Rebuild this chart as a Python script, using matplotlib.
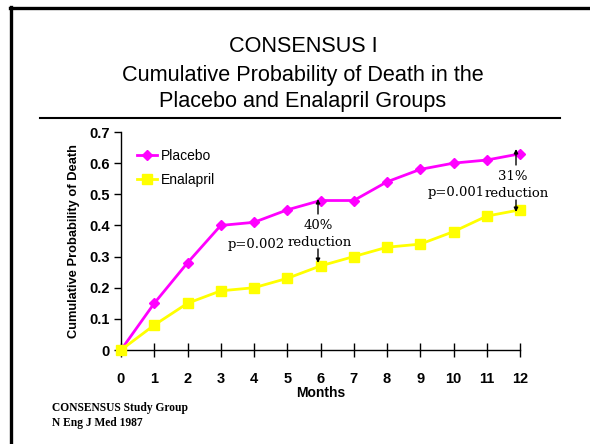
import matplotlib
matplotlib.use("Agg")
import matplotlib.pyplot as plt
from matplotlib.lines import Line2D

months = list(range(13))
placebo = [0, 0.15, 0.28, 0.40, 0.41, 0.45, 0.48, 0.48, 0.54, 0.58, 0.60, 0.61, 0.63]
enalapril = [0, 0.08, 0.15, 0.19, 0.20, 0.23, 0.27, 0.30, 0.33, 0.34, 0.38, 0.43, 0.45]
yticks = [0, 0.1, 0.2, 0.3, 0.4, 0.5, 0.6, 0.7]
ytick_labels = ["0", "0.1", "0.2", "0.3", "0.4", "0.5", "0.6", "0.7"]

W, H = 590, 444
fig = plt.figure(figsize=(W / 100, H / 100), dpi=100)
fig.patch.set_facecolor("white")

def fx(px):
    return px / W

def fy(py):
    return 1 - py / H

# frame lines
fig.add_artist(Line2D([fx(10), fx(590)], [fy(8), fy(8)], color="black", lw=2.4))
fig.add_artist(Line2D([fx(11), fx(11)], [fy(7), fy(444)], color="black", lw=2.4))
# rule under title
fig.add_artist(Line2D([fx(40), fx(560)], [fy(118), fy(118)], color="black", lw=1.5))

sans = "Liberation Sans"
serif = "DejaVu Serif"

for txt, py in [("CONSENSUS I", 46), ("Cumulative Probability of Death in the", 75),
                ("Placebo and Enalapril Groups", 102)]:
    fig.text(fx(303), fy(py), txt, ha="center", va="center", fontsize=15.6, family=sans)

ax = fig.add_axes([fx(121), fy(350), fx(520) - fx(121), fy(132) - fy(350)])
ax.plot(months, placebo, color="#FF00FF", lw=2, marker="D", ms=5.5, clip_on=False,
        label="Placebo", zorder=3)
ax.plot(months, enalapril, color="#FFFF00", lw=2, marker="s", ms=6.5, clip_on=False,
        label="Enalapril", zorder=3)
ax.set_xlim(0, 12)
ax.set_ylim(0, 0.7)
ax.set_xticks(months)
ax.set_xticklabels([str(m) for m in months], fontsize=10.5, fontweight="bold", family=sans)
ax.set_yticks(yticks)
ax.set_yticklabels(ytick_labels, fontsize=10.5, fontweight="bold", family=sans)
ax.tick_params(axis="x", direction="inout", length=10, width=1, pad=11)
ax.tick_params(axis="y", direction="out", length=5, width=1, pad=3)
for s in ["top", "right"]:
    ax.spines[s].set_visible(False)
for s in ["left", "bottom"]:
    ax.spines[s].set_linewidth(1)
ax.set_xlabel("Months", fontsize=10, fontweight="bold", family=sans, labelpad=0)
ax.set_ylabel("Cumulative Probability of Death", fontsize=9.3, fontweight="bold",
              family=sans, labelpad=7)

leg = ax.legend(loc="upper left", bbox_to_anchor=(0.01, 0.98), frameon=False,
                prop={"family": sans, "size": 10}, handlelength=1.4, handletextpad=0.25,
                labelspacing=0.75)

def dx(px):
    return (px - 121) / (399 / 12)

def dy(py):
    return (350 - py) / (218 / 0.7)

sfont = dict(family=serif, fontsize=9.5, ha="center", va="center")
ax.text(dx(318), dy(225), "40%", **sfont)
ax.text(dx(320), dy(242), "reduction", **sfont)
ax.text(dx(256), dy(244), "p=0.002", **sfont)
ax.text(dx(513), dy(176), "31%", **sfont)
ax.text(dx(517), dy(193), "reduction", **sfont)
ax.text(dx(456), dy(192), "p=0.001", **sfont)

arrow = dict(arrowstyle="-|>", color="black", lw=1, mutation_scale=6,
             shrinkA=0, shrinkB=0)
ax.annotate("", xy=(dx(318), dy(199)), xytext=(dx(318), dy(214)), arrowprops=arrow)
ax.annotate("", xy=(dx(318), dy(263)), xytext=(dx(318), dy(249)), arrowprops=arrow)
ax.annotate("", xy=(dx(516), dy(149)), xytext=(dx(516), dy(165)), arrowprops=arrow)
ax.annotate("", xy=(dx(516), dy(212)), xytext=(dx(516), dy(200)), arrowprops=arrow)

fig.text(fx(52), fy(408), "CONSENSUS Study Group", fontsize=8.3, fontweight="bold",
         family="Liberation Serif", ha="left", va="center")
fig.text(fx(52), fy(423), "N Eng J Med 1987", fontsize=8.3, fontweight="bold",
         family="Liberation Serif", ha="left", va="center")

fig.savefig("out.png", dpi=100)
